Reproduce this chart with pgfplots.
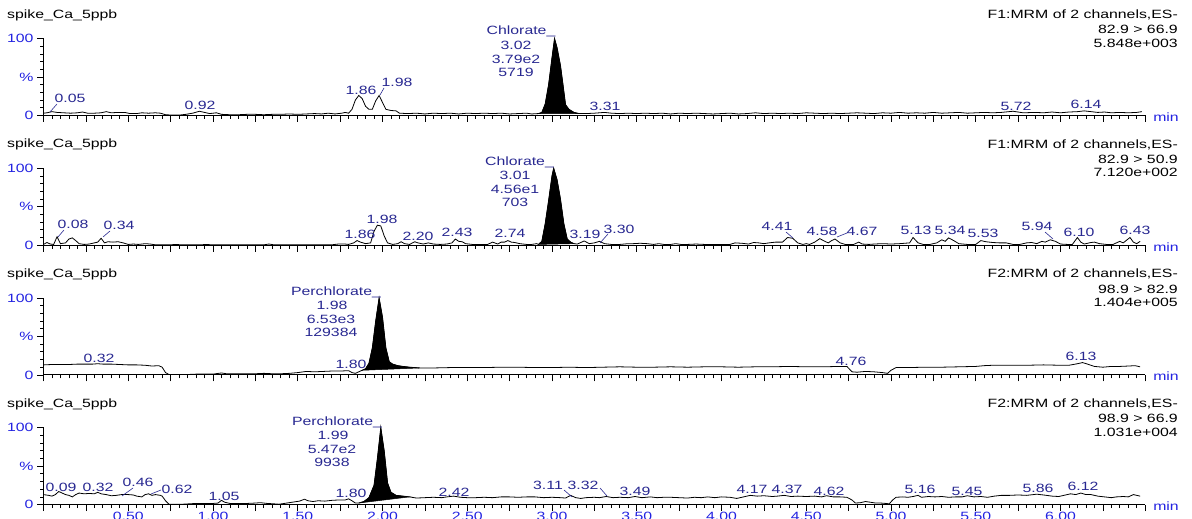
\documentclass[border=0pt]{standalone}
\usepackage{pgfplots}
\pgfplotsset{compat=1.18}
\usepackage{fontspec}
\setmainfont{Liberation Sans}
\newfontfamily\labfam[FakeStretch=1.32]{Liberation Sans}
\newcommand\lf{\labfam\fontsize{12}{14}\selectfont}
\definecolor{navy}{RGB}{40,40,145}
\definecolor{tickblue}{RGB}{35,35,225}
\pgfplotsset{chrom/.style={
  width=1101.75pt, height=77pt, scale only axis, anchor=south west,
  xmin=0, xmax=6.5, ymin=0, ymax=100,
  axis x line*=bottom, axis y line*=left,
  axis line style={-, line width=0.8pt},
  xtick={0,0.25,...,6.5},
  minor xtick={0,0.05,...,6.5},
  ytick={0,50,100}, yticklabels={0,\%,100},
  minor ytick={10,20,30,40,60,70,80,90},
  tick align=outside,
  major tick length=6.5pt, minor tick length=3.5pt,
  every tick/.style={black, line width=0.7pt},
  tick label style={font=\lf, text=tickblue},
  xticklabels={},
  clip=false,
}, trace/.style={black, line width=0.8pt, mark=none}, pk/.style={fill=black, draw=black, line width=0.5pt, mark=none}}
\begin{document}
\begin{tikzpicture}
\useasboundingbox (0,0) rectangle (1192pt,519pt);
% ---------------- panel 1
\begin{axis}[chrom, at={(43.5pt,403.5pt)}]
\addplot[pk] coordinates {(2.92,2.5)(2.94,4)(2.96,15)(2.98,40)(3.00,75)(3.015,100)(3.03,88)(3.05,65)(3.065,40)(3.08,14)(3.10,8)(3.13,4)(3.16,2.5)} -- cycle;
\addplot[trace] coordinates {(0.00,3)(0.02,3.5)(0.05,5)(0.08,4)(0.12,3.5)(0.16,3)(0.20,3.5)(0.23,4.5)(0.26,3)(0.30,3)(0.34,3.5)(0.37,5)(0.40,3.5)(0.44,4)(0.48,4)(0.51,2.5)(0.55,2.5)(0.58,3.5)(0.62,3)(0.66,3.5)(0.69,3)(0.72,1)(0.76,0.5)(0.80,0.5)(0.84,1.5)(0.88,3)(0.92,5.5)(0.95,4)(0.98,2.5)(1.02,3.5)(1.05,1.5)(1.10,1)(1.15,1)(1.20,1.5)(1.25,1.5)(1.30,1)(1.35,1.5)(1.40,1.5)(1.45,2)(1.50,1.5)(1.55,2)(1.60,2.5)(1.64,2)(1.68,3)(1.72,2)(1.76,3)(1.78,4)(1.80,3)(1.82,8)(1.84,20)(1.86,26)(1.88,22)(1.90,12)(1.92,8)(1.94,8)(1.96,19)(1.98,26)(2.00,17)(2.02,8)(2.05,6.5)(2.08,6)(2.10,3)(2.15,2.5)(2.20,3)(2.25,2)(2.30,3)(2.35,2.5)(2.40,3)(2.45,2)(2.50,3)(2.55,2.5)(2.60,3)(2.65,2.5)(2.70,3)(2.75,2)(2.80,2.5)(2.85,3)(2.88,2)(2.92,2.5)(2.94,4)(2.96,15)(2.98,40)(3.00,75)(3.015,100)(3.03,88)(3.05,65)(3.065,40)(3.08,14)(3.10,8)(3.13,4)(3.16,2.5)(3.20,2.5)(3.25,3)(3.31,4)(3.35,3)(3.40,2.5)(3.45,3)(3.50,2.5)(3.55,3)(3.60,2.5)(3.65,3)(3.70,2)(3.75,3)(3.80,2.5)(3.85,3)(3.90,2.5)(3.95,2)(4.00,2.5)(4.05,3)(4.10,2)(4.15,2.5)(4.20,3.5)(4.25,2.5)(4.30,3)(4.35,2.5)(4.40,3)(4.45,2.5)(4.50,3.5)(4.55,3)(4.60,2.5)(4.65,3)(4.70,2.5)(4.75,3)(4.80,3.5)(4.85,3)(4.90,2.5)(4.95,3.5)(5.00,3)(5.05,4)(5.10,3)(5.15,3.5)(5.20,3)(5.25,4)(5.30,3)(5.35,3.5)(5.40,4)(5.45,3)(5.50,3.5)(5.55,4)(5.60,3.5)(5.65,4)(5.72,5.5)(5.78,3.5)(5.85,4)(5.90,3.5)(5.95,4.5)(6.00,3.5)(6.05,4.5)(6.10,5)(6.14,6)(6.18,5)(6.22,4)(6.26,4.5)(6.30,3.5)(6.35,4)(6.40,3.5)(6.45,4)(6.48,5)};
\end{axis}
% ---------------- panel 2
\begin{axis}[chrom, at={(43.5pt,273.8pt)}]
\addplot[pk] coordinates {(2.92,1)(2.94,5)(2.96,28)(2.98,58)(3.00,90)(3.01,100)(3.03,85)(3.05,60)(3.07,28)(3.09,8)(3.11,4)(3.13,2)} -- cycle;
\addplot[trace] coordinates {(0.00,1)(0.02,3.5)(0.04,1.5)(0.06,1)(0.08,11)(0.10,2)(0.13,3)(0.15,8)(0.17,9.5)(0.19,6)(0.21,2)(0.24,1)(0.27,1.5)(0.30,3)(0.32,4)(0.34,9)(0.36,3)(0.38,4.5)(0.41,4)(0.44,4.5)(0.47,3)(0.50,1)(0.53,1.5)(0.56,1)(0.60,2)(0.63,1.5)(0.66,0.5)(0.72,0.5)(0.78,0.8)(0.84,0.5)(0.90,0.5)(0.96,0.8)(1.02,0.5)(1.08,0.5)(1.14,0.5)(1.20,0.5)(1.26,0.5)(1.30,0.5)(1.33,1.5)(1.36,0.5)(1.42,0.5)(1.48,0.5)(1.54,0.5)(1.60,0.5)(1.66,0.5)(1.70,0.5)(1.74,1.5)(1.78,1.5)(1.80,1)(1.83,3)(1.85,6)(1.87,4)(1.90,2)(1.93,3)(1.95,18)(1.97,26)(1.99,25)(2.01,12)(2.03,3)(2.06,1)(2.09,2)(2.11,4.5)(2.13,2)(2.16,1)(2.19,4.5)(2.21,3)(2.24,1.5)(2.27,3)(2.30,1.5)(2.34,1)(2.38,1.5)(2.41,3)(2.43,8)(2.45,5)(2.47,4.5)(2.49,2)(2.53,1)(2.58,1)(2.62,1)(2.65,4)(2.68,1.5)(2.70,4)(2.72,4)(2.74,6)(2.76,4)(2.78,3.5)(2.81,2)(2.85,1)(2.88,1)(2.91,2)(2.92,1)(2.94,5)(2.96,28)(2.98,58)(3.00,90)(3.01,100)(3.03,85)(3.05,60)(3.07,28)(3.09,8)(3.11,4)(3.13,2)(3.15,1.5)(3.19,5.5)(3.22,2)(3.25,3)(3.28,5)(3.31,2)(3.35,1)(3.40,1)(3.45,2)(3.48,2)(3.52,2.5)(3.56,2)(3.60,1)(3.63,2)(3.66,1)(3.70,1)(3.73,2)(3.76,1)(3.80,1)(3.85,1.5)(3.90,1)(3.95,1)(4.00,1)(4.05,1)(4.08,3)(4.12,2.5)(4.16,1.5)(4.19,3.5)(4.22,3)(4.25,2)(4.28,3)(4.32,4)(4.36,4)(4.39,10)(4.42,9)(4.45,3)(4.48,1)(4.50,2)(4.52,1)(4.55,4)(4.58,8.5)(4.61,5)(4.63,3)(4.65,6)(4.67,8)(4.70,3)(4.73,1)(4.78,1)(4.81,4)(4.83,1.5)(4.87,1)(4.90,1.5)(4.95,2)(5.00,1.5)(5.05,2)(5.08,2.5)(5.11,3)(5.13,10)(5.16,3)(5.19,1)(5.23,1)(5.27,3)(5.30,7)(5.32,5)(5.34,9.5)(5.37,6)(5.40,2)(5.45,1)(5.50,1)(5.53,6)(5.56,4.5)(5.60,3.5)(5.64,3)(5.68,3)(5.72,1)(5.76,1)(5.80,3)(5.83,3.5)(5.86,2)(5.89,5)(5.91,4)(5.94,7)(5.97,5)(6.00,1.5)(6.04,1)(6.07,1)(6.10,10)(6.12,4)(6.14,1.5)(6.18,3.5)(6.20,4)(6.23,2)(6.27,1)(6.31,1)(6.35,5)(6.37,3)(6.41,10)(6.43,4)(6.45,2)(6.47,5)};
\end{axis}
% ---------------- panel 3
\begin{axis}[chrom, at={(43.5pt,144.1pt)}]
\addplot[pk] coordinates {(1.88,6)(1.90,8)(1.92,15)(1.94,35)(1.96,70)(1.98,100)(2.00,75)(2.02,35)(2.04,17)(2.06,14)(2.09,12)(2.12,11)(2.16,10)(2.22,9)} -- cycle;
\addplot[trace] coordinates {(0.00,13)(0.05,13.5)(0.10,13.5)(0.15,13.5)(0.20,14)(0.25,14)(0.29,14)(0.32,14.5)(0.35,14)(0.40,14)(0.45,13.5)(0.50,13)(0.55,13)(0.60,12.5)(0.64,11.5)(0.68,12)(0.70,10)(0.72,3)(0.74,0.5)(0.80,0.5)(0.85,0.5)(0.90,1)(0.95,1)(1.00,1)(1.05,2.5)(1.08,1.5)(1.15,1.5)(1.20,1.5)(1.25,1.5)(1.30,2)(1.35,1.5)(1.40,1.5)(1.45,2)(1.50,3)(1.55,4.5)(1.60,4)(1.65,4.5)(1.70,5)(1.75,5)(1.80,5.5)(1.82,3)(1.84,2)(1.86,4)(1.88,6)(1.90,8)(1.92,15)(1.94,35)(1.96,70)(1.98,100)(2.00,75)(2.02,35)(2.04,17)(2.06,14)(2.09,12)(2.12,11)(2.16,10)(2.22,9)(2.30,9)(2.40,9.5)(2.50,9.5)(2.60,9.5)(2.70,10)(2.80,10)(2.90,9.5)(3.00,9.5)(3.10,10)(3.20,9.5)(3.30,10)(3.40,10.5)(3.50,10)(3.60,10)(3.70,10.5)(3.80,10)(3.90,10.5)(4.00,10.5)(4.10,10)(4.20,10.5)(4.30,10.5)(4.40,11)(4.50,10.5)(4.60,10.5)(4.70,11)(4.74,11)(4.77,4)(4.80,3.5)(4.85,4.5)(4.90,4)(4.95,3)(4.98,2)(5.00,6)(5.03,9.5)(5.10,9.5)(5.20,10)(5.30,10)(5.40,10.5)(5.50,11)(5.55,12)(5.60,12.5)(5.70,12.5)(5.80,12.5)(5.90,13)(6.00,12.5)(6.05,12.5)(6.10,14.5)(6.13,16)(6.16,14)(6.20,11)(6.25,10)(6.30,11)(6.35,11)(6.40,11.5)(6.44,12)(6.47,10.5)};
\end{axis}
% ---------------- panel 4
\begin{axis}[chrom, at={(43.5pt,14.4pt)}, xticklabels={,,0.50,,1.00,,1.50,,2.00,,2.50,,3.00,,3.50,,4.00,,4.50,,5.00,,5.50,,6.00,,}, xticklabel style={yshift=3pt}]
\addplot[pk] coordinates {(1.86,2)(1.89,4)(1.92,9)(1.95,25)(1.97,60)(1.99,100)(2.01,70)(2.03,28)(2.05,16)(2.08,12)(2.12,11)(2.16,10)} -- cycle;
\addplot[trace] coordinates {(0.00,13)(0.03,12)(0.05,11)(0.07,13)(0.09,17)(0.11,15)(0.13,13)(0.15,12)(0.17,10)(0.19,13)(0.21,15)(0.24,14)(0.27,14.5)(0.30,14)(0.32,16)(0.34,14)(0.37,13)(0.40,11.5)(0.43,12)(0.46,13)(0.50,13)(0.53,12.5)(0.55,11)(0.58,10)(0.60,13)(0.62,14)(0.64,12)(0.66,13)(0.69,12)(0.70,11)(0.72,5)(0.74,0.5)(0.78,0.5)(0.82,0.5)(0.86,1)(0.90,1.5)(0.95,1.5)(1.00,1.5)(1.03,2)(1.05,5.5)(1.07,3)(1.10,1.5)(1.15,1.5)(1.20,1.5)(1.25,2)(1.28,2.5)(1.32,1.5)(1.36,1)(1.39,0.5)(1.42,1.5)(1.45,2.5)(1.48,3.5)(1.51,4.5)(1.54,7)(1.56,5)(1.59,4)(1.62,5)(1.66,4.5)(1.70,5.5)(1.74,6)(1.78,6)(1.80,7.5)(1.82,5)(1.84,2)(1.86,2)(1.89,4)(1.92,9)(1.95,25)(1.97,60)(1.99,100)(2.01,70)(2.03,28)(2.05,16)(2.08,12)(2.12,11)(2.16,10)(2.20,8.5)(2.25,9)(2.30,9.5)(2.35,9)(2.38,10)(2.42,11)(2.46,9.5)(2.50,9)(2.55,9)(2.60,9.5)(2.65,9)(2.70,10)(2.75,10)(2.80,9.5)(2.85,10)(2.90,10)(2.95,9)(3.00,9.5)(3.05,9)(3.08,8.5)(3.11,12)(3.14,9)(3.17,8)(3.20,9)(3.25,9.5)(3.28,9)(3.32,10.5)(3.36,9)(3.40,9.5)(3.45,9)(3.49,10.5)(3.53,9)(3.58,10)(3.62,9)(3.66,9.5)(3.70,9.5)(3.75,9)(3.80,8.5)(3.84,9.5)(3.88,9)(3.92,10)(3.96,9)(4.00,10)(4.05,9.5)(4.09,8)(4.12,9.5)(4.17,12)(4.21,11)(4.25,11.5)(4.30,10.5)(4.33,11)(4.37,12)(4.41,10.5)(4.45,11)(4.50,10.5)(4.55,11)(4.59,10)(4.62,11.5)(4.66,10)(4.70,10)(4.74,9.5)(4.77,6)(4.79,2)(4.82,2.5)(4.85,4)(4.88,3)(4.91,2)(4.94,2)(4.97,1.5)(4.99,1)(5.01,6)(5.03,9.5)(5.07,10)(5.10,9.5)(5.13,10.5)(5.16,12)(5.18,9.5)(5.22,10.5)(5.26,10)(5.30,10.5)(5.34,9.5)(5.38,10)(5.42,10)(5.45,11.5)(5.49,10)(5.53,10.5)(5.57,9.5)(5.61,11)(5.65,12)(5.70,12)(5.75,12.5)(5.80,12)(5.86,13.5)(5.90,12.5)(5.95,11)(5.99,10.5)(6.02,12)(6.06,14)(6.09,13)(6.12,15)(6.15,13)(6.18,13)(6.22,11)(6.26,10)(6.30,9)(6.33,10)(6.37,10.5)(6.40,10)(6.43,13)(6.45,12)(6.47,11)};
\end{axis}
% ---------------- annotations (pixel coordinates, y downward)
\begin{scope}[x=1pt,y=-1pt,shift={(0pt,519pt)}]
\foreach \o/\a/\b/\c in {0/F1:MRM of 2 channels{,}ES-/82.9 > 66.9/5.848e+003, 129.7/F1:MRM of 2 channels{,}ES-/82.9 > 50.9/7.120e+002, 259.4/F2:MRM of 2 channels{,}ES-/98.9 > 82.9/1.404e+005, 389.1/F2:MRM of 2 channels{,}ES-/98.9 > 66.9/1.031e+004}{
  \node[anchor=west,font=\lf,inner sep=0] at (7,15+\o) {spike\_Ca\_5ppb};
  \node[anchor=east,font=\lf,inner sep=0] at (1178,15+\o) {\a};
  \node[anchor=east,font=\lf,inner sep=0] at (1178,29.5+\o) {\b};
  \node[anchor=east,font=\lf,inner sep=0] at (1178,43+\o) {\c};
  \node[font=\lf,text=tickblue,inner sep=0] at (1166,117+\o) {min};
}
\begin{scope}[every node/.style={font=\lf,text=navy,inner sep=0}, navy, line width=0.6pt]
% panel 1
\node at (70,98) {0.05}; \draw (57,104)--(50,112);
\node at (200,105) {0.92};
\node at (361,90) {1.86};
\node at (397,82) {1.98}; \draw (384,88)--(380,95);
\node at (521,31) {Chlorate\_};
\node at (516,45.5) {3.02};
\node at (516,59) {3.79e2};
\node at (516,72.5) {5719};
\node at (605,106.5) {3.31};
\node at (1016,106) {5.72};
\node at (1086,104) {6.14};
% panel 2
\node at (73,224) {0.08}; \draw (64,230)--(58,237);
\node at (119,225.5) {0.34}; \draw (110,231)--(103,237);
\node at (360,234) {1.86};
\node at (382,219) {1.98};
\node at (418,236) {2.20};
\node at (457,232.5) {2.43};
\node at (510,233) {2.74};
\node at (519.5,162) {Chlorate\_};
\node at (515,175.5) {3.01};
\node at (515,189) {4.56e1};
\node at (515,202) {703};
\node at (585,234) {3.19};
\node at (619,229) {3.30}; \draw (600,243)--(608,234);
\node at (777,226) {4.41}; \draw (786,232)--(793,238);
\node at (822,231.5) {4.58}; \draw (837,237)--(847,233);
\node at (862,231.5) {4.67};
\node at (916,230.5) {5.13};
\node at (950,230.5) {5.34};
\node at (983,233) {5.53};
\node at (1037,226) {5.94}; \draw (1045,232)--(1053,239);
\node at (1079,232.5) {6.10};
\node at (1135,230.5) {6.43};
% panel 3
\node at (99,358) {0.32};
\node at (336,292.5) {Perchlorate\_};
\node at (332,305.5) {1.98};
\node at (331,319) {6.53e3};
\node at (331,332) {129384};
\node at (351,364) {1.80};
\node at (851,361) {4.76};
\node at (1081,356) {6.13};
% panel 4
\node at (61,487) {0.09};
\node at (98,487) {0.32};
\node at (138,482.5) {0.46}; \draw (133,488)--(122,496);
\node at (177,489) {0.62}; \draw (161,490)--(151,494);
\node at (224,496) {1.05};
\node at (337,422.5) {Perchlorate\_};
\node at (333,435.5) {1.99};
\node at (332,449) {5.47e2};
\node at (332,462) {9938};
\node at (351,493) {1.80};
\node at (454,492.5) {2.42};
\node at (548,485) {3.11}; \draw (564,490)--(572,497);
\node at (583,485) {3.32}; \draw (600,488)--(607,496);
\node at (635,491) {3.49};
\node at (752,489) {4.17};
\node at (787,489) {4.37};
\node at (829,491) {4.62};
\node at (920,489) {5.16};
\node at (967,491) {5.45};
\node at (1038,488) {5.86};
\node at (1083,486) {6.12};
\end{scope}
\end{scope}
\end{tikzpicture}
\end{document}
